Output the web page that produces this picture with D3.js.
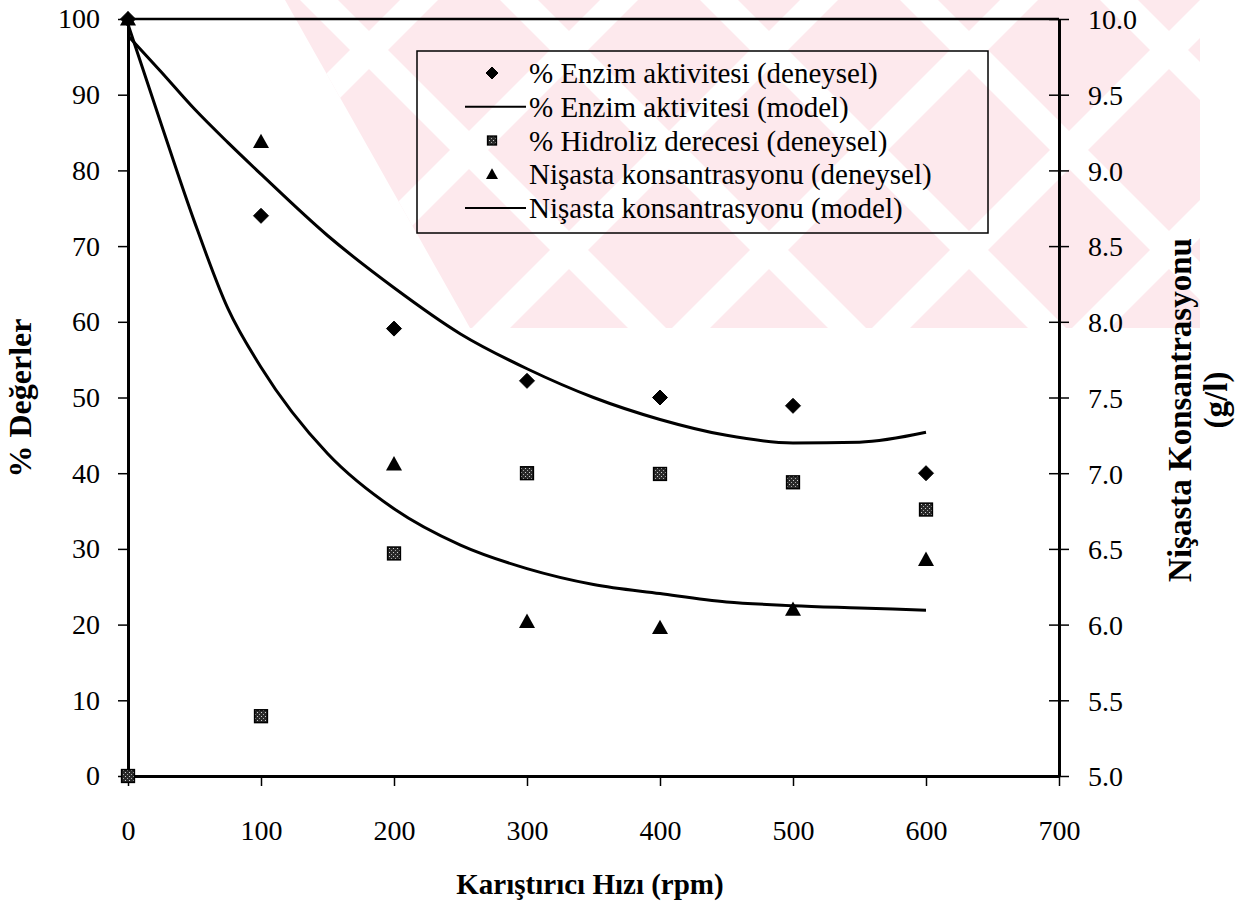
<!DOCTYPE html>
<html>
<head>
<meta charset="utf-8">
<script src="https://cdn.jsdelivr.net/npm/d3@7"></script>
<style>
  html, body { margin: 0; padding: 0; background: #fff; }
  svg { display: block; font-family: "Liberation Serif", "Times New Roman", serif; }
</style>
</head>
<body>
<svg id="chart" width="1235" height="906"></svg>
<script>
// measured data
const rpm = [0, 100, 200, 300, 400, 500, 600];
const enzimDeneysel = [100, 74, 59.1, 52.2, 50.0, 48.9, 40.0];
const hidrolizDeneysel = [0, 7.9, 29.4, 40.0, 39.9, 38.8, 35.2];
const nisastaDeneysel = [10.0, 9.19, 7.06, 6.02, 5.98, 6.10, 6.43];

// model curves
const modelRpm = [0, 25, 50, 75, 100, 150, 200, 250, 300, 350, 400, 450, 500, 550, 600];
const enzimModel = [97.8, 93.0, 88.1, 83.7, 79.5, 71.4, 64.5, 58.4, 53.8, 50.0, 47.1, 45.0, 44.0, 44.1, 45.4];
const nisastaModel = [9.965, 9.305, 8.66, 8.09, 7.70, 7.13, 6.765, 6.525, 6.37, 6.265, 6.205, 6.15, 6.125, 6.11, 6.095];

const xTicks = [0, 100, 200, 300, 400, 500, 600, 700];
const leftTicks = [0, 10, 20, 30, 40, 50, 60, 70, 80, 90, 100];
const rightTicks = [5.0, 5.5, 6.0, 6.5, 7.0, 7.5, 8.0, 8.5, 9.0, 9.5, 10.0];

const legendItems = [
  { label: "% Enzim aktivitesi (deneysel)", type: "diamond" },
  { label: "% Enzim aktivitesi (model)", type: "line" },
  { label: "% Hidroliz derecesi (deneysel)", type: "square" },
  { label: "Nişasta konsantrasyonu (deneysel)", type: "triangle" },
  { label: "Nişasta konsantrasyonu (model)", type: "line" }
];

const svg = d3.select("#chart");

const x = d3.scaleLinear().domain([0, 700]).range([128, 1059]);
const yL = d3.scaleLinear().domain([0, 100]).range([776, 19]);
const yR = d3.scaleLinear().domain([5, 10]).range([776, 19]);

// speckled fill for the squares
const defs = svg.append("defs");
const pat = defs.append("pattern")
  .attr("id", "speck").attr("patternUnits", "userSpaceOnUse")
  .attr("width", 4).attr("height", 4);
pat.append("rect").attr("width", 4).attr("height", 4).attr("fill", "#2a2a2a");
pat.append("rect").attr("x", 1).attr("y", 0).attr("width", 1).attr("height", 1).attr("fill", "#cfcfcf");
pat.append("rect").attr("x", 3).attr("y", 2).attr("width", 1).attr("height", 1).attr("fill", "#a8a8a8");

// faint watermark behind the chart: pink field cut by white diagonal stripes
defs.append("clipPath").attr("id", "wmClip")
  .append("path").attr("d", "M285,0 L1200,0 L1200,328 L470,328 Z");
const wm = svg.append("g").attr("clip-path", "url(#wmClip)");
wm.append("rect").attr("x", 270).attr("y", 0).attr("width", 940).attr("height", 330).attr("fill", "#fde9ed");
for (let k = -300; k < 1700; k += 200) {
  wm.append("path").attr("fill", "#fff")
    .attr("d", `M${k},0 L${k + 38},0 L${k + 38 + 340},340 L${k + 340},340 Z`);
  wm.append("path").attr("fill", "#fff")
    .attr("d", `M${k + 100},0 L${k + 138},0 L${k + 138 - 340},340 L${k + 100 - 340},340 Z`);
}

const font = 28;

// axes
const gLeft = svg.append("g").attr("transform", `translate(${x(0)},0)`)
  .call(d3.axisLeft(yL).tickValues(leftTicks).tickSize(10).tickSizeOuter(0).tickPadding(18));
const gRight = svg.append("g").attr("transform", `translate(${x(700)},0)`)
  .call(d3.axisRight(yR).tickValues(rightTicks).tickSize(10).tickSizeOuter(0).tickPadding(19)
    .tickFormat(d3.format(".1f")));
gRight.selectAll(".tick line").attr("x1", -10);
const gBottom = svg.append("g").attr("transform", `translate(0,${yL(0)})`)
  .call(d3.axisBottom(x).tickValues(xTicks).tickSize(10).tickSizeOuter(0).tickPadding(34));

[gLeft, gRight, gBottom].forEach(g => {
  g.selectAll("text").attr("font-size", font).attr("font-family", "Liberation Serif").attr("fill", "#000");
  g.selectAll(".tick line").attr("stroke", "#000").attr("stroke-width", 1.5);
  g.select(".domain").attr("stroke", "#000").attr("stroke-width", 3);
});
gRight.selectAll("text").attr("dy", "0.35em");

// top frame line
svg.append("line")
  .attr("x1", x(0)).attr("x2", x(700)).attr("y1", yL(100)).attr("y2", yL(100))
  .attr("stroke", "#000").attr("stroke-width", 2.5);

// model lines
const enzLine = d3.line().x((d, i) => x(modelRpm[i])).y(d => yL(d)).curve(d3.curveMonotoneX);
const nisLine = d3.line().x((d, i) => x(modelRpm[i])).y(d => yR(d)).curve(d3.curveMonotoneX);
svg.append("path").attr("d", enzLine(enzimModel))
  .attr("fill", "none").attr("stroke", "#000").attr("stroke-width", 3);
svg.append("path").attr("d", nisLine(nisastaModel))
  .attr("fill", "none").attr("stroke", "#000").attr("stroke-width", 3);

// marker shapes
function marker(g, type, cx, cy, s) {
  if (type === "diamond") {
    g.append("path").attr("d", `M${cx},${cy - s} L${cx + s},${cy} L${cx},${cy + s} L${cx - s},${cy} Z`)
      .attr("fill", "#000").attr("stroke", "#000").attr("stroke-width", 1).attr("stroke-linejoin", "round");
  } else if (type === "square") {
    g.append("rect").attr("x", cx - s * 0.8).attr("y", cy - s * 0.8)
      .attr("width", s * 1.6).attr("height", s * 1.6)
      .attr("fill", "url(#speck)").attr("stroke", "#000").attr("stroke-width", 1.5);
  } else if (type === "triangle") {
    g.append("path").attr("d", `M${cx},${cy - s} L${cx + s},${cy + s * 0.8} L${cx - s},${cy + s * 0.8} Z`)
      .attr("fill", "#000");
  }
}

const gm = svg.append("g");
rpm.forEach((r, i) => marker(gm, "square", x(r), yL(hidrolizDeneysel[i]), 8));
rpm.forEach((r, i) => marker(gm, "triangle", x(r), yR(nisastaDeneysel[i]), 8));
rpm.forEach((r, i) => marker(gm, "diamond", x(r), yL(enzimDeneysel[i]), 7.5));

// legend
const lg = svg.append("g");
lg.append("rect").attr("x", 417).attr("y", 51).attr("width", 571).attr("height", 182)
  .attr("fill", "none").attr("stroke", "#000").attr("stroke-width", 1.5);
const rowY = d3.scalePoint().domain(d3.range(legendItems.length)).range([73, 208]);
legendItems.forEach((it, i) => {
  const cy = rowY(i);
  if (it.type === "line") {
    lg.append("line").attr("x1", 465).attr("x2", 526).attr("y1", cy).attr("y2", cy)
      .attr("stroke", "#000").attr("stroke-width", 1.8);
  } else {
    marker(lg, it.type, 492, cy, it.type === "square" ? 5.5 : 6);
  }
  lg.append("text").attr("x", 529).attr("y", cy + 10)
    .attr("font-size", 29).attr("fill", "#000").text(it.label);
});

// axis titles
svg.append("text")
  .attr("transform", "translate(31,398) rotate(-90)")
  .attr("text-anchor", "middle").attr("font-size", 32).attr("font-weight", "bold")
  .text("% Değerler");
svg.append("text")
  .attr("transform", "translate(1191,410) rotate(-90)")
  .attr("text-anchor", "middle").attr("font-size", 33).attr("font-weight", "bold")
  .text("Nişasta Konsantrasyonu");
svg.append("text")
  .attr("transform", "translate(1227,400) rotate(-90)")
  .attr("text-anchor", "middle").attr("font-size", 33).attr("font-weight", "bold")
  .text("(g/l)");
svg.append("text")
  .attr("x", 590).attr("y", 894)
  .attr("text-anchor", "middle").attr("font-size", 29).attr("font-weight", "bold")
  .text("Karıştırıcı Hızı (rpm)");
</script>
</body>
</html>
